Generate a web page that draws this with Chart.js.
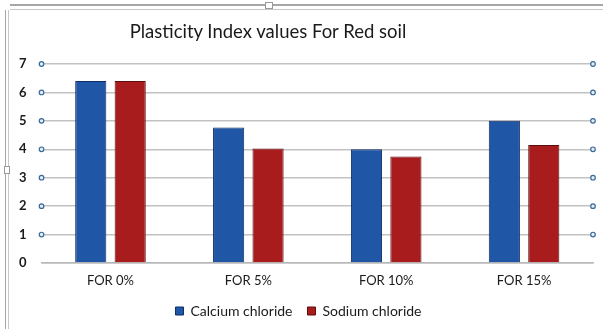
<!DOCTYPE html>
<html>
<head>
<meta charset="utf-8">
<script src="https://cdn.jsdelivr.net/npm/chart.js@4/dist/chart.umd.min.js"></script>
<style>
  html, body { margin: 0; padding: 0; background: #fff; }
  #wrap { position: relative; width: 603px; height: 329px; overflow: hidden; }
  #plasticity-chart { position: absolute; left: 0; top: 0; }
  .edge { position: absolute; background: #a6a6a6; }
  #chart-title {
    position: absolute; left: 0; width: 536px; top: 20px;
    text-align: center; font: 18.5px Lato, sans-serif; color: #1a1a1a;
  }
</style>
</head>
<body>
<div id="wrap">
  <canvas id="plasticity-chart" width="603" height="329"></canvas>
  <div id="chart-title">Plasticity Index values For Red soil</div>
  <div class="edge" style="left:10px; top:4px; width:593px; height:2px;"></div>
  <div class="edge" style="left:10px; top:9px; width:593px; height:1px; background:#c8c8c8;"></div>
  <div class="edge" style="left:5px; top:10px; width:1px; height:319px;"></div>
  <div class="edge" style="left:8px; top:10px; width:1px; height:319px; background:#c8c8c8;"></div>
  <div class="edge" style="left:265px; top:2px; width:6px; height:5px; background:#fff; border:1px solid #999;"></div>
  <div class="edge" style="left:4px; top:166px; width:4px; height:6px; background:#fff; border:1px solid #999;"></div>
</div>
<script>
const categories = ["FOR 0%", "FOR 5%", "FOR 10%", "FOR 15%"];
const calciumChloride = [6.4, 4.77, 4.0, 5.0];
const sodiumChloride = [6.4, 4.03, 3.75, 4.15];
const yTicks = [0, 1, 2, 3, 4, 5, 6, 7];

// small round handles on both ends of each gridline
const gridHandles = {
    id: 'gridHandles',
    afterDraw(chart) {
        const ctx = chart.ctx;
        const y = chart.scales.y;
        const area = chart.chartArea;
        ctx.save();
        ctx.lineWidth = 1.2;
        ctx.strokeStyle = '#3a6a98';
        ctx.fillStyle = '#e4eef8';
        yTicks.filter(v => v > 0).forEach(v => {
            const py = y.getPixelForValue(v);
            [area.left, area.right].forEach(px => {
                ctx.beginPath();
                ctx.arc(px, py, 2.3, 0, Math.PI * 2);
                ctx.fill();
                ctx.stroke();
            });
        });
        ctx.restore();
    }
};

new Chart(document.getElementById("plasticity-chart"), {
    type: "bar",
    data: {
        labels: categories,
        datasets: [
            { label: "Calcium chloride", data: calciumChloride, backgroundColor: '#1f56a5', borderColor: '#0f2d66', borderWidth: 1 },
            { label: "Sodium chloride", data: sodiumChloride, backgroundColor: '#a81c1e', borderColor: '#5e0d0d', borderWidth: 1 }
        ]
    },
    options: {
        responsive: false,
        animation: false,
        layout: { padding: { left: 4, right: 10, top: 64, bottom: 1 } },
        datasets: { bar: { categoryPercentage: 0.572, barPercentage: 0.79 } },
        plugins: {
            title: { display: false },
            legend: {
                position: 'bottom',
                labels: {
                    boxWidth: 8, boxHeight: 8, padding: 15,
                    color: '#1a1a1a',
                    font: { family: 'Lato', size: 14 }
                }
            },
            tooltip: { enabled: false }
        },
        scales: {
            x: {
                grid: { display: false },
                border: { color: '#b8b8b8', width: 1.5 },
                ticks: { color: '#1a1a1a', font: { family: 'Lato', size: 13 }, padding: 2 },
                afterFit: axis => { axis.height = 26; }
            },
            y: {
                min: 0, max: 7,
                afterBuildTicks: axis => { axis.ticks = yTicks.map(v => ({ value: v })); },
                grid: { color: '#c2c2c2', lineWidth: 1.5, drawTicks: false },
                border: { display: false },
                ticks: { color: '#1a1a1a', font: { family: 'Lato', size: 13, weight: 'bold' }, padding: 15 }
            }
        }
    },
    plugins: [gridHandles]
});
</script>
</body>
</html>
